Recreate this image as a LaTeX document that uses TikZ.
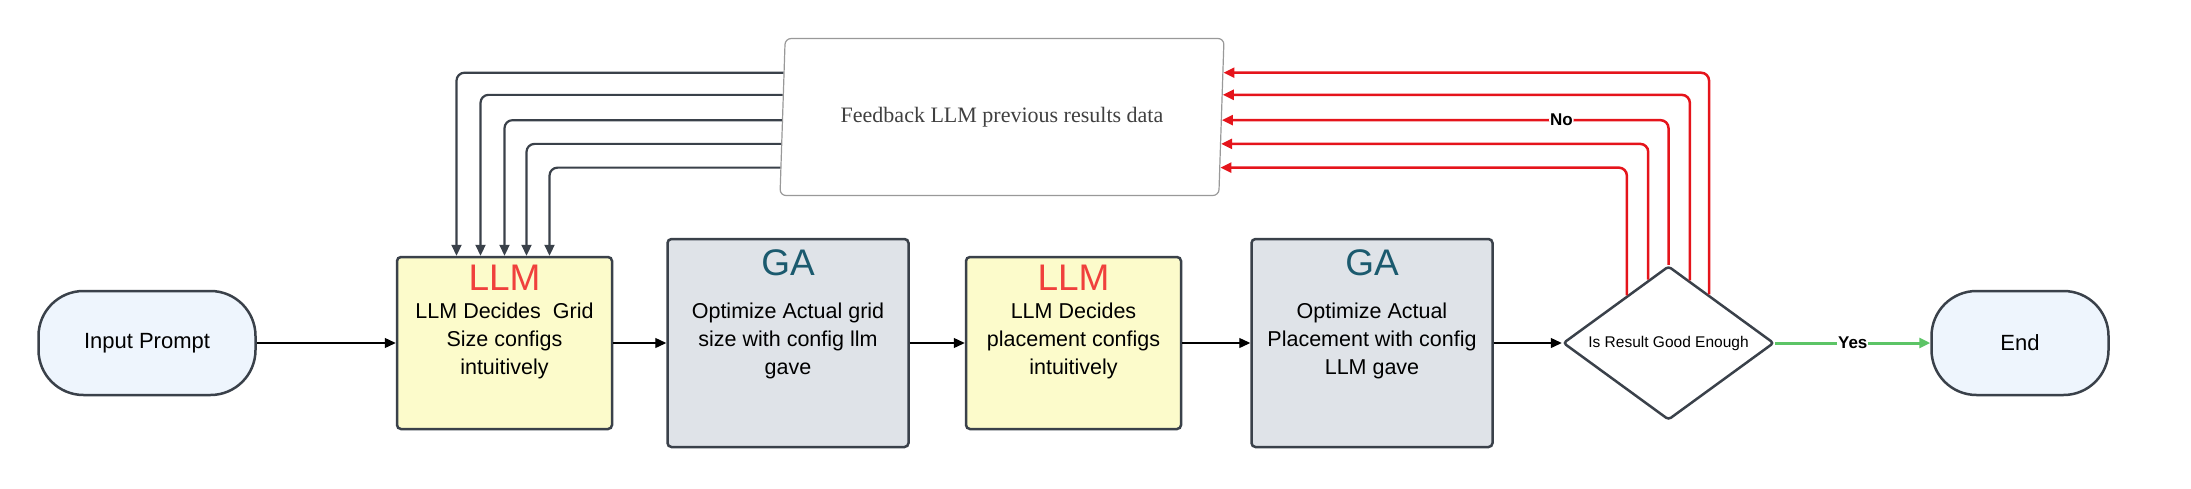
\documentclass[tikz,border=0pt]{standalone}
\usepackage{fontspec}
\setmainfont{Liberation Sans}
\newfontfamily\fbfont{Liberation Serif}
\usetikzlibrary{arrows.meta, positioning, shapes.geometric, calc}

\definecolor{edgegray}{HTML}{3A414A}
\definecolor{llmfill}{HTML}{FCFBCB}
\definecolor{gafill}{HTML}{DFE3E8}
\definecolor{termfill}{HTML}{EEF5FD}
\definecolor{llmred}{HTML}{F0403C}
\definecolor{gateal}{HTML}{1B5A6E}
\definecolor{nored}{HTML}{E5141B}
\definecolor{yesgreen}{HTML}{5CC466}

\begin{document}
\begin{tikzpicture}[
        x=1pt, y=-1pt,
        >={Triangle[length=11pt, width=10pt]},
        termbox/.style={rectangle, draw=edgegray, line width=2.5pt, rounded corners=45pt,
                minimum width=217pt, minimum height=104pt, fill=termfill,
                font=\fontsize{22}{26}\selectfont},
        llmbox/.style={rectangle, draw=edgegray, line width=2.5pt, rounded corners=4pt,
                minimum width=215pt, minimum height=172pt, fill=llmfill},
        gabox/.style={rectangle, draw=edgegray, line width=2.5pt, rounded corners=4pt,
                minimum width=241pt, minimum height=208pt, fill=gafill},
        llmtitle/.style={anchor=north, text=llmred, font=\fontsize{37}{40}\selectfont, inner sep=0pt},
        gatitle/.style={anchor=north, text=gateal, font=\fontsize{37}{40}\selectfont, inner sep=0pt},
        bodytext/.style={anchor=north, align=center, inner sep=0pt,
                font=\fontsize{21.5}{28}\selectfont},
        decbox/.style={diamond, draw=edgegray, line width=2.5pt, rounded corners=3pt, aspect=1.37,
                minimum width=211pt, minimum height=154pt, inner sep=0pt, fill=white,
                font=\fontsize{15.5}{18}\selectfont},
        fbbox/.style={trapezium, trapezium left angle=79, trapezium right angle=101,
                trapezium stretches body=true, draw=gray!80, line width=1.2pt, rounded corners=6pt,
                minimum width=444pt, minimum height=157pt, fill=white,
                font=\fbfont\fontsize{22}{26}\selectfont, text=black!75},
        arrow/.style={->, line width=1.3pt, black},
        fbarrow/.style={->, line width=2.2pt, edgegray, rounded corners=8pt},
        noarrow/.style={->, line width=2.5pt, nored, rounded corners=8pt},
        yesarrow/.style={->, line width=3pt, yesgreen},
        condlab/.style={font=\bfseries\fontsize{17}{19}\selectfont, text=black, fill=white, inner sep=1pt}, ]

        \useasboundingbox (0,0) rectangle (2191,488);

        % === MAIN ROW ===
        \node[termbox] (input) at (147,343) {Input Prompt};
        \node[llmbox, right=139pt of input] (llma) {};
        \node[gabox, right=53pt of llma] (gaa) {};
        \node[llmbox, right=55pt of gaa] (llmb) {};
        \node[gabox, right=68pt of llmb] (gab) {};
        \node[decbox, right=68pt of gab] (dec) {Is Result Good Enough};
        \node[termbox, minimum width=177pt, right=155pt of dec] (end) {End};

        % box contents
        \node[llmtitle] (llmatitle) at ($(llma.north)+(0,9)$) {LLM};
        \node[bodytext] (llmabody) at ($(llma.north)+(0,47)$) {LLM Decides\ \ Grid\\Size configs\\intuitively};
        \node[gatitle] (gaatitle) at ($(gaa.north)+(0,12)$) {GA};
        \node[bodytext] (gaabody) at ($(gaa.north)+(0,65)$) {Optimize Actual grid\\size with config llm\\gave};
        \node[llmtitle] (llmbtitle) at ($(llmb.north)+(0,9)$) {LLM};
        \node[bodytext] (llmbbody) at ($(llmb.north)+(0,47)$) {LLM Decides\\placement configs\\intuitively};
        \node[gatitle] (gabtitle) at ($(gab.north)+(0,12)$) {GA};
        \node[bodytext] (gabbody) at ($(gab.north)+(0,65)$) {Optimize Actual\\Placement with config\\LLM gave};

        % === FEEDBACK ===
        \node[fbbox] (fb) at (1002,117) {Feedback LLM previous results data};

        % Main connections
        \draw[arrow] (input) -- (llma);
        \draw[arrow] (llma) -- (gaa);
        \draw[arrow] (gaa) -- (llmb);
        \draw[arrow] (llmb) -- (gab);
        \draw[arrow] (gab) -- (dec);
        \draw[yesarrow] (dec) -- node[condlab] {Yes} (end);

        % feedback into first LLM
        \foreach \t/\dx in {0.78/-48, 0.64/-24, 0.48/0, 0.33/22, 0.18/45} {
                \draw[fbarrow] ($(fb.bottom left corner)!\t!(fb.top left corner)$) -| ($(llma.north)+(\dx,0)$);
            }

        % No loops back to feedback
        \draw[noarrow] ($(dec.north)!0.38!(dec.east)$) |- ($(fb.bottom right corner)!0.78!(fb.top right corner)$);
        \draw[noarrow] ($(dec.north)!0.2!(dec.east)$) |- ($(fb.bottom right corner)!0.64!(fb.top right corner)$);
        \draw[noarrow] (dec.north) |- node[condlab, pos=0.62] {No} ($(fb.bottom right corner)!0.48!(fb.top right corner)$);
        \draw[noarrow] ($(dec.north)!0.19!(dec.west)$) |- ($(fb.bottom right corner)!0.33!(fb.top right corner)$);
        \draw[noarrow] ($(dec.north)!0.39!(dec.west)$) |- ($(fb.bottom right corner)!0.18!(fb.top right corner)$);
    \end{tikzpicture}
\end{document}
